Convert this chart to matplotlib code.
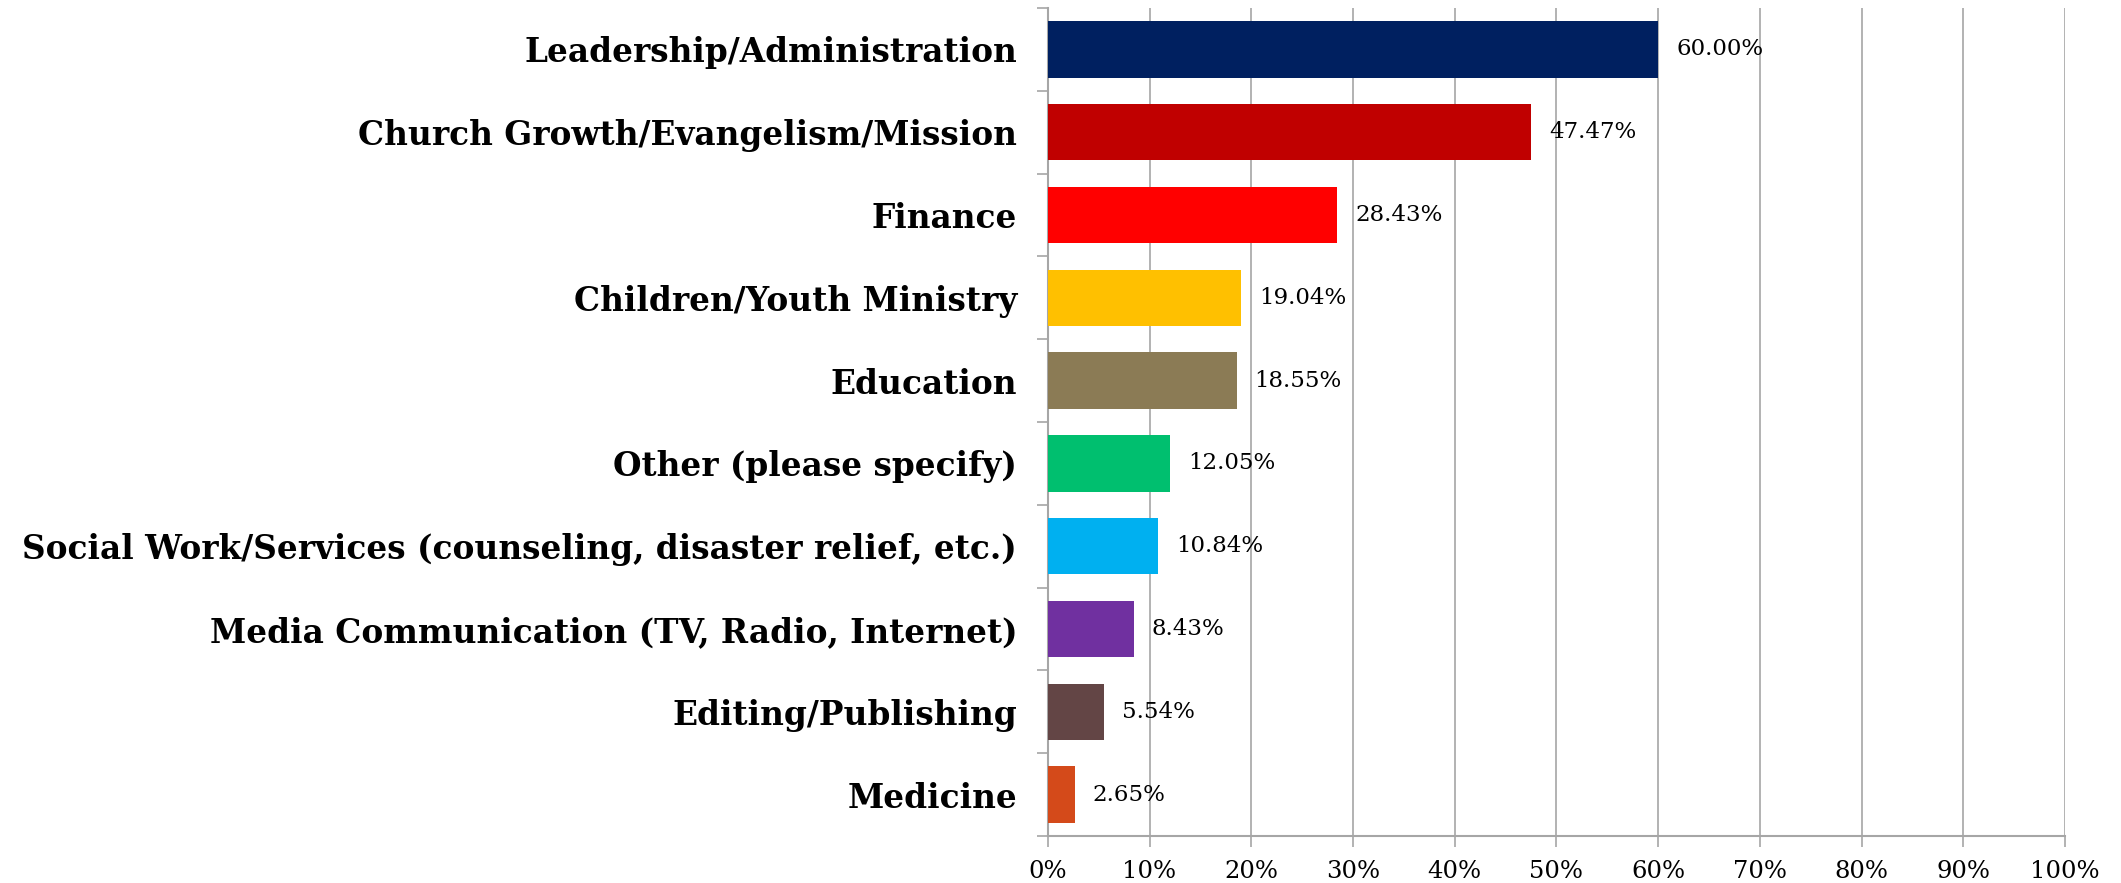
import matplotlib as mpl

mpl.use("Agg")
import matplotlib.pyplot as plt  # noqa: E402
from matplotlib.ticker import FuncFormatter, MultipleLocator  # noqa: E402

categories = [
    "Leadership/Administration",
    "Church Growth/Evangelism/Mission",
    "Finance",
    "Children/Youth Ministry",
    "Education",
    "Other (please specify)",
    "Social Work/Services (counseling, disaster relief, etc.)",
    "Media Communication (TV, Radio, Internet)",
    "Editing/Publishing",
    "Medicine",
]
values = [60.00, 47.47, 28.43, 19.04, 18.55, 12.05, 10.84, 8.43, 5.54, 2.65]
colors = [
    "#002060", "#C00000", "#FF0000", "#FFC000", "#8B7B55",
    "#00BF6F", "#00B0F0", "#7030A0", "#634545", "#D44A1A",
]

GRID = "#A6A6A6"
LABEL_FONT = "DejaVu Serif"

fig = plt.figure(figsize=(21.21, 8.83), dpi=100)
ax = fig.add_axes([0.494, 0.0532, 0.4797, 0.9377])

ypos = list(range(len(categories)))
ax.barh(ypos, values, height=0.68, color=colors, zorder=3)

for y, v in zip(ypos, values):
    ax.annotate(f"{v:.2f}%", (v, y), xytext=(13, 0), textcoords="offset points",
                va="center", ha="left", fontsize=16.5, family=LABEL_FONT,
                zorder=4)

ax.set_ylim(len(categories) - 0.5, -0.5)
ax.set_xlim(0, 100)
ax.set_yticks([y - 0.5 for y in ypos] + [len(categories) - 0.5])
ax.set_yticklabels([])
ax.set_yticks(ypos, minor=True)
ax.set_yticklabels(categories, minor=True, fontsize=23.6, fontweight="bold",
                   family=LABEL_FONT)
ax.tick_params(axis="y", which="minor", length=0, pad=22)
ax.tick_params(axis="y", which="major", length=8, color=GRID, width=1.2)

ax.xaxis.set_major_locator(MultipleLocator(10))
ax.xaxis.set_major_formatter(FuncFormatter(lambda x, _: f"{x:.0f}%"))
ax.tick_params(axis="x", length=8, color=GRID, width=1.2, labelsize=17.5, pad=9)
for lab in ax.get_xticklabels():
    lab.set_family(LABEL_FONT)

ax.grid(axis="x", color=GRID, lw=1.2, zorder=0)
for side in ("top", "right"):
    ax.spines[side].set_visible(False)
for side in ("left", "bottom"):
    ax.spines[side].set_color(GRID)
    ax.spines[side].set_linewidth(1.5)

fig.savefig("out.png", dpi=100)
